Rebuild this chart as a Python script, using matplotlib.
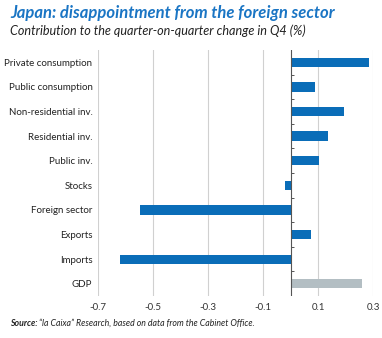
import matplotlib.pyplot as plt

# Contributions to q-o-q GDP change in Q4 (%)
categories = ['Private consumption', 'Public consumption', 'Non-residential inv.',
              'Residential inv.', 'Public inv.', 'Stocks', 'Foreign sector',
              'Exports', 'Imports', 'GDP']
values = [0.285, 0.089, 0.193, 0.137, 0.103, -0.019, -0.546, 0.073, -0.621, 0.261]
xticks = [-0.7, -0.5, -0.3, -0.1, 0.1, 0.3]
xtick_labels = ['-0.7', '-0.5', '-0.3', '-0.1', '0.1', '0.3']

blue = '#0a6db8'
grey = '#b3bec3'
colors = [blue] * (len(categories) - 1) + [grey]

plt.rcParams['font.family'] = ['Lato', 'DejaVu Sans']

fig = plt.figure(figsize=(3.82, 3.38), dpi=100)
ax = fig.add_axes([0.2565, 0.124, 0.7205, 0.728])

y = range(len(categories))
ax.barh(y, values, height=0.38, color=colors, zorder=3)

ax.set_xlim(-0.7, 0.3)
ax.set_ylim(len(categories) - 0.5, -0.5)
ax.set_xticks(xticks)
ax.set_xticklabels(xtick_labels, fontsize=7, color='#333333')
ax.set_yticks(list(y))
ax.set_yticklabels(categories, fontsize=7, color='#222222')
ax.tick_params(axis='both', length=0)
ax.tick_params(axis='x', pad=5)
ax.tick_params(axis='y', pad=4)

for s in ax.spines.values():
    s.set_visible(False)

ax.grid(axis='x', color='#d0d0d0', linewidth=0.8, zorder=0)
ax.axvline(0, color='#555555', linewidth=0.8, zorder=4)
# small ticks on the zero line between categories
ax.hlines([i + 0.5 for i in y], 0, 0.012, color='#555555', linewidth=0.7, zorder=4)

fig.text(0.026, 0.962, 'Japan: disappointment from the foreign sector',
         fontsize=12, fontweight='bold', fontstyle='italic', color='#1a75c4',
         va='center', ha='left')
fig.text(0.026, 0.908, 'Contribution to the quarter-on-quarter change in Q4 (%)',
         fontsize=9.1, fontstyle='italic', color='#222222', va='center', ha='left')

src = fig.text(0.026, 0.044, 'Source: ', fontsize=6.3, fontweight='bold', fontstyle='italic',
               color='#222222', va='center', ha='left')
fig.canvas.draw()
bb = src.get_window_extent().transformed(fig.transFigure.inverted())
fig.text(bb.x1, 0.044, '“la Caixa” Research, based on data from the Cabinet Office.',
         fontsize=6.3, fontstyle='italic', color='#222222', va='center', ha='left')

fig.savefig('out.png', dpi=100)
